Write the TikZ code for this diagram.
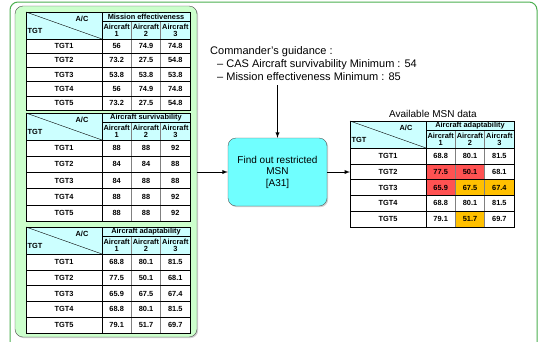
\documentclass[tikz,border=0pt]{standalone}
\usepackage{fontspec}
\setmainfont{Liberation Sans}
\usetikzlibrary{shadows,calc}

\definecolor{framegreen}{RGB}{76,175,80}
\definecolor{panelgreen}{RGB}{204,255,204}
\definecolor{headcyan}{RGB}{204,255,255}
\definecolor{boxcyan}{RGB}{112,255,255}
\definecolor{hotred}{RGB}{255,82,82}
\definecolor{warmorange}{RGB}{255,192,0}

\tikzset{
  tabtext/.style={font=\fontsize{7.4}{7.6}\selectfont\bfseries, inner sep=0pt},
  tabhead/.style={tabtext, font=\fontsize{7.4}{7.4}\selectfont\bfseries},
  arrowline/.style={-latex, line width=0.9pt},
}

% table: name, left, top, row height, title, rows, extra fills
\newcommand{\msntable}[7]{%
  \begin{scope}[shift={(#2,#3)}]
    \def\rowh{#4}
    \coordinate (#1-west) at (0,0);
    \fill[headcyan] (0,0) rectangle (164,27);
    \fill[white] (0,27) rectangle (164,{27+5*#4});
    #7
    % grid
    \draw[gray] (105.33,9) -- (105.33,{27+5*#4});
    \draw[gray] (134.67,9) -- (134.67,{27+5*#4});
    \draw (76,9) -- (164,9);
    \draw (76,0) -- (76,{27+5*#4});
    \foreach \i in {0,...,4} \draw (0,{27+\i*#4}) -- (164,{27+\i*#4});
    \draw (0,0) -- (76,27);
    \draw[line width=0.8pt] (0,0) rectangle (164,{27+5*#4});
    % header
    \node[tabhead] (#1-title) at (120,4.8) {#5};
    \node[tabtext] (#1-ac) at (56,7) {A/C};
    \node[tabtext, anchor=west] (#1-tgt) at (1.5,19) {TGT};
    \node[tabhead, align=center] (#1-h1) at (90.67,18.2) {Aircraft\\1};
    \node[tabhead, align=center] (#1-h2) at (120,18.2) {Aircraft\\2};
    \node[tabhead, align=center] (#1-h3) at (149.33,18.2) {Aircraft\\3};
    % rows
    \foreach \tg/\va/\vb/\vc [count=\i] in {#6} {
      \node[tabtext] (#1-r\i) at (38,{27+(\i-0.5)*\rowh}) {\tg};
      \node[tabtext] (#1-a\i) at (90.67,{27+(\i-0.5)*\rowh}) {\va};
      \node[tabtext] (#1-b\i) at (120,{27+(\i-0.5)*\rowh}) {\vb};
      \node[tabtext] (#1-c\i) at (149.33,{27+(\i-0.5)*\rowh}) {\vc};
    }
  \end{scope}}

% shade one data cell: row, column, colour
\newcommand{\cellfill}[3]{%
  \fill[#3] ({76+(#2-1)*29.33},{27+(#1-1)*\rowh}) rectangle ++(29.33,\rowh);}

\begin{document}
\begin{tikzpicture}[x=1pt, y=-1pt]
  \useasboundingbox (0,0) rectangle (540,341);

  % Outer frame
  \draw[framegreen, line width=1pt, rounded corners=8pt] (10,2) rectangle (537,356);

  % Left panel with the three input tables
  \node[draw=gray!60!black, fill=panelgreen, rounded corners=8pt,
        minimum width=182pt, minimum height=331pt, inner sep=0pt,
        drop shadow={shadow xshift=1.2pt, shadow yshift=-1.2pt, fill=gray!70}]
        (panel) at (106,171.5) {};

  \msntable{eff}{26}{12}{14.2}{Mission effectiveness}
    {TGT1/56/74.9/74.8, TGT2/73.2/27.5/54.8, TGT3/53.8/53.8/53.8,
     TGT4/56/74.9/74.8, TGT5/73.2/27.5/54.8}{}
  \msntable{surv}{26}{113}{16.2}{Aircraft survivability}
    {TGT1/88/88/92, TGT2/84/84/88, TGT3/84/88/88,
     TGT4/88/88/92, TGT5/88/88/92}{}
  \msntable{adapt}{26}{227}{15.8}{Aircraft adaptability}
    {TGT1/68.8/80.1/81.5, TGT2/77.5/50.1/68.1, TGT3/65.9/67.5/67.4,
     TGT4/68.8/80.1/81.5, TGT5/79.1/51.7/69.7}{}

  % Process box
  \node[draw=gray!70!black, fill=boxcyan, rounded corners=8pt,
        minimum width=99pt, minimum height=68pt, align=center,
        font=\fontsize{10}{11.5}\selectfont,
        drop shadow={shadow xshift=1.2pt, shadow yshift=-1.2pt, fill=gray!70}]
        (msnbox) at (277.5,172) {Find out restricted\\MSN\\{[A31]}};

  % Guidance
  \node[anchor=north west, align=left, inner sep=0pt,
        font=\fontsize{11}{13}\selectfont] (guidance) at (210,46)
    {Commander's guidance :\\
     \hspace{7pt}-- CAS Aircraft survivability Minimum : 54\\
     \hspace{7pt}-- Mission effectiveness Minimum : 85};

  % Output table
  \node[font=\fontsize{10}{11}\selectfont, inner sep=0pt] (availtitle) at (433,114)
    {Available MSN data};
  \msntable{avail}{350}{121}{15.8}{Aircraft adaptability}
    {TGT1/68.8/80.1/81.5, TGT2/77.5/50.1/68.1, TGT3/65.9/67.5/67.4,
     TGT4/68.8/80.1/81.5, TGT5/79.1/51.7/69.7}
    {\cellfill{2}{1}{hotred}\cellfill{2}{2}{hotred}\cellfill{3}{1}{hotred}
     \cellfill{3}{2}{warmorange}\cellfill{3}{3}{warmorange}\cellfill{5}{2}{warmorange}}

  % Connectors
  \draw[arrowline] ([yshift=-5pt]guidance.south -| msnbox.north) -- (msnbox.north);
  \draw[arrowline] (panel.east |- msnbox.west) -- (msnbox.west);
  \draw[arrowline] (msnbox.east) -- (msnbox.east -| avail-west);
\end{tikzpicture}
\end{document}
